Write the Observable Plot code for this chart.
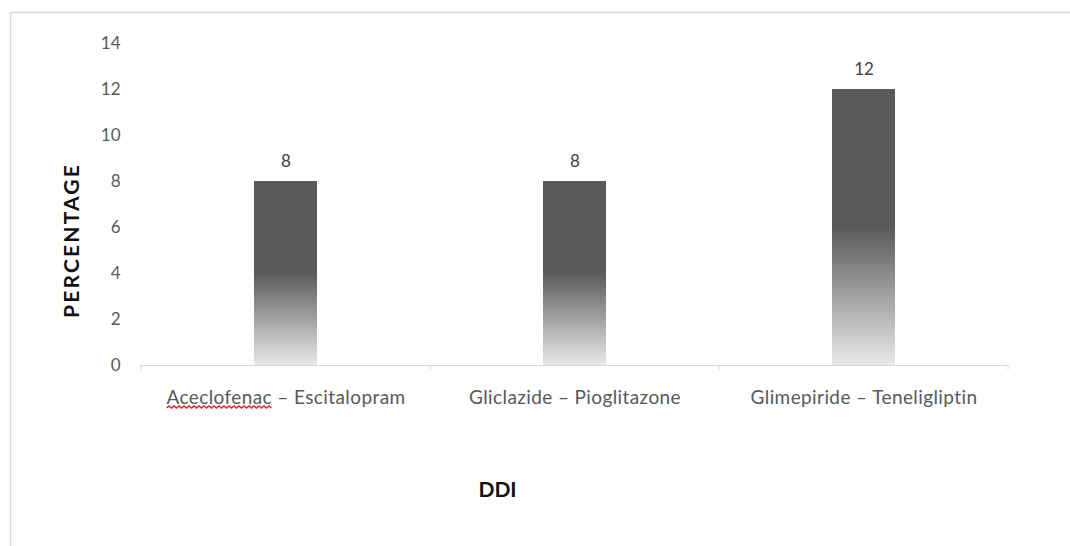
<!DOCTYPE html>
<html>
<head>
<meta charset="utf-8">
<script src="https://cdn.jsdelivr.net/npm/d3@7"></script>
<script src="https://cdn.jsdelivr.net/npm/@observablehq/plot@0.6"></script>
<style>
  html, body { margin: 0; padding: 0; background: #fff; }
  #chart { position: relative; width: 1070px; height: 546px; }
</style>
</head>
<body>
<div id="chart"></div>
<script>
// Drug–drug interaction pairs and their share (%)
const pairs = ["Aceclofenac – Escitalopram", "Gliclazide – Pioglitazone", "Glimepiride – Teneligliptin"];
const percentages = [8, 8, 12];
const yTicks = [0, 2, 4, 6, 8, 10, 12, 14];
const yTitle = "PERCENTAGE";
const xTitle = "DDI";

const data = pairs.map((p, i) => ({pair: p, pct: percentages[i]}));
const svgNs = "http://www.w3.org/2000/svg";

// Shared vertical gradient: solid dark gray in the upper half, fading to light gray at the base
const gradientDefs = () => {
  const defs = document.createElementNS(svgNs, "defs");
  const lg = document.createElementNS(svgNs, "linearGradient");
  lg.setAttribute("id", "barFade");
  lg.setAttribute("x1", "0"); lg.setAttribute("y1", "0");
  lg.setAttribute("x2", "0"); lg.setAttribute("y2", "1");
  [["0%", "#5a5a5a"], ["50%", "#5a5a5a"], ["100%", "#e9e9e9"]].forEach(([o, c]) => {
    const s = document.createElementNS(svgNs, "stop");
    s.setAttribute("offset", o);
    s.setAttribute("stop-color", c);
    lg.appendChild(s);
  });
  defs.appendChild(lg);
  return defs;
};

// Small tick marks at the band boundaries along the category axis
const bandTicks = (index, scales) => {
  const g = document.createElementNS(svgNs, "g");
  const bw = scales.x.bandwidth ? scales.x.bandwidth() : 0;
  const xs = pairs.map(p => scales.x(p));
  xs.push(xs[xs.length - 1] + bw);
  const y0 = scales.y(0);
  xs.forEach(x => {
    const l = document.createElementNS(svgNs, "line");
    l.setAttribute("x1", x); l.setAttribute("x2", x);
    l.setAttribute("y1", y0); l.setAttribute("y2", y0 + 5);
    l.setAttribute("stroke", "#d9d9d9");
    g.appendChild(l);
  });
  return g;
};

const chart = Plot.plot({
  width: 1070,
  height: 546,
  marginLeft: 140,
  marginRight: 62,
  marginTop: 43,
  marginBottom: 181,
  style: {fontFamily: "Lato, 'Open Sans', sans-serif", background: "#fff"},
  x: {domain: pairs, padding: 0, label: null},
  y: {domain: [0, 14], label: null},
  marks: [
    gradientDefs,
    Plot.axisY({ticks: yTicks, tickSize: 0, tickPadding: 20, fontSize: 17, color: "#595959", label: null}),
    Plot.axisX({tickSize: 0, tickPadding: 25, fontSize: 19, color: "#595959", label: null}),
    Plot.barY(data, {x: "pair", y: "pct", fill: "url(#barFade)", insetLeft: 113, insetRight: 113}),
    Plot.ruleY([0], {stroke: "#d9d9d9", strokeWidth: 1.2}),
    bandTicks,
    Plot.text(data, {x: "pair", y: "pct", text: d => String(d.pct), dy: -20, fontSize: 17, fill: "#404040"}),
    Plot.text([yTitle], {frameAnchor: "left", textAnchor: "middle", dx: -68, dy: 36, rotate: -90, fontSize: 21, fontWeight: "bold", fill: "#111"}),
    Plot.text([xTitle], {frameAnchor: "bottom", dx: -77, dy: 131, fontSize: 21, fontWeight: "bold", fill: "#111"})
  ]
});

// Letter spacing for the category labels and the vertical axis title
chart.querySelectorAll("text").forEach(t => {
  if (pairs.includes(t.textContent)) t.setAttribute("letter-spacing", "0.4");
  if (t.textContent === yTitle) t.setAttribute("letter-spacing", "2.2");
});

// Page frame lines along the top and left edges
const frame = document.createElementNS(svgNs, "path");
frame.setAttribute("d", "M10.5,546V12.5H1070");
frame.setAttribute("fill", "none");
frame.setAttribute("stroke", "#d9d9d9");
frame.setAttribute("stroke-width", "1.5");
chart.insertBefore(frame, chart.firstChild);

document.getElementById("chart").appendChild(chart);

// Spell-check squiggle under the first drug name, measured from the rendered label
chart.querySelectorAll("text").forEach(t => {
  if (t.textContent !== pairs[0]) return;
  const word = pairs[0].split(" – ")[0];
  const wordLen = t.getSubStringLength(0, word.length);
  const box = t.getBBox();
  const ctm = t.getCTM();
  const x0 = ctm.e + box.x, y0 = ctm.f + box.y + box.height;
  let d = `M${x0},${y0}`;
  for (let x = x0 + 2.5, k = 1; x <= x0 + wordLen; x += 2.5, k++) d += `L${x},${y0 + (k % 2 ? -2 : 0)}`;
  const sq = document.createElementNS(svgNs, "path");
  sq.setAttribute("d", d);
  sq.setAttribute("fill", "none");
  sq.setAttribute("stroke", "#e02424");
  sq.setAttribute("stroke-width", "1.4");
  chart.appendChild(sq);
});
</script>
</body>
</html>
